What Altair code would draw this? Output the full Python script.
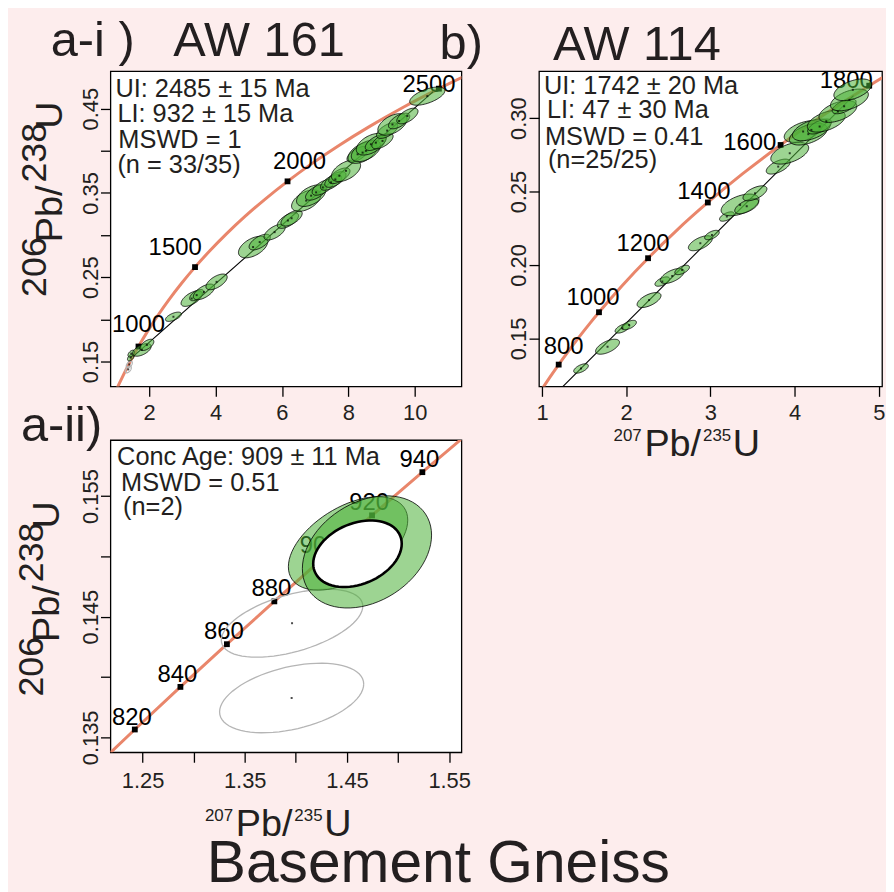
import numpy as np
import pandas as pd
import altair as alt

FONT = "Liberation Sans"
PINK = "#FDEDED"
SALMON = "#E9866B"
GREEN = "#4DB038"
INK = "#231F20"

# ---------------- concordia (age Ma, 207Pb/235U, 206Pb/238U) ----------------
conc_age = [700, 750, 800, 820, 840, 860, 880, 900, 920, 940, 960, 1000, 1100, 1200,
            1300, 1400, 1500, 1600, 1700, 1800, 1900, 2000, 2100, 2200, 2300, 2400, 2500, 2600]
conc_r75 = [0.99251, 1.09308, 1.19873, 1.24247, 1.28708, 1.33257, 1.37897, 1.42629, 1.47456,
            1.52378, 1.57399, 1.67741, 1.95452, 2.26030, 2.59774, 2.97009, 3.38099, 3.83442,
            4.33468, 4.88690, 5.49619, 6.16852, 6.91046, 7.72916, 8.63262, 9.62957, 10.72971, 11.94371]
conc_r68 = [0.11470, 0.12338, 0.13213, 0.13565, 0.13918, 0.14272, 0.14627, 0.14983, 0.15340,
            0.15698, 0.16058, 0.16780, 0.18606, 0.20460, 0.22344, 0.24256, 0.26199, 0.28172,
            0.30175, 0.32211, 0.34277, 0.36377, 0.38509, 0.40674, 0.42873, 0.45107, 0.47375, 0.49679]

ai_marks = [1000, 1500, 2000, 2500]
b_marks = [800, 1000, 1200, 1400, 1600, 1800]
aii_marks = [820, 840, 860, 880, 900, 920, 940]

# discordia end points
ai_disc_x = [1.50398, 10.5577]
ai_disc_y = [0.15555, 0.47033]
b_disc_x = [1.20, 4.70]
b_disc_y = [0.1144, 0.3153]

# ---------------- AW 161 analyses (x, y, sx, sy, rho) ----------------
ai_x = [1.445, 1.460, 1.78, 1.93, 2.73, 3.28, 3.43, 3.65, 4.03, 5.13, 5.33, 5.78, 6.18, 6.29,
        6.73, 6.88, 7.03, 7.23, 7.48, 7.61, 7.73, 7.93, 8.28, 8.43, 8.53, 8.68, 8.83, 9.03,
        9.17, 9.33, 9.53, 9.78, 10.38]
ai_y = [0.1547, 0.1594, 0.1638, 0.1697, 0.2031, 0.2247, 0.2288, 0.2326, 0.2445, 0.2858, 0.2917,
        0.3035, 0.3173, 0.3200, 0.3409, 0.3468, 0.3507, 0.3566, 0.3625, 0.3660, 0.3704, 0.3763,
        0.3959, 0.3979, 0.4000, 0.4078, 0.4097, 0.4117, 0.4240, 0.4313, 0.4354, 0.4413, 0.4649]
ai_sx = [0.10, 0.10, 0.28, 0.21, 0.24, 0.32, 0.21, 0.32, 0.32, 0.44, 0.32, 0.32, 0.32, 0.32,
         0.44, 0.44, 0.32, 0.32, 0.32, 0.32, 0.32, 0.44, 0.32, 0.44, 0.44, 0.44, 0.32, 0.32,
         0.32, 0.44, 0.32, 0.32, 0.53]
ai_sy = [0.0040, 0.0040, 0.0075, 0.0067, 0.0055, 0.0093, 0.0067, 0.0093, 0.0093, 0.0128, 0.0093,
         0.0093, 0.0093, 0.0093, 0.0128, 0.0128, 0.0093, 0.0093, 0.0093, 0.0093, 0.0093, 0.0128,
         0.0093, 0.0128, 0.0128, 0.0128, 0.0093, 0.0093, 0.0093, 0.0128, 0.0093, 0.0093, 0.0108]
ai_rho = [0.5, 0.5, 0.55, 0.58, 0.6, 0.61, 0.58, 0.61, 0.61, 0.5, 0.61, 0.61, 0.61, 0.61,
          0.5, 0.5, 0.61, 0.61, 0.61, 0.61, 0.61, 0.5, 0.61, 0.5, 0.5, 0.5, 0.61, 0.61,
          0.61, 0.5, 0.61, 0.61, 0.6]
# excluded analyses
ai_ex_x = [1.37, 1.40]
ai_ex_y = [0.1406, 0.1465]
ai_ex_sx = [0.09, 0.09]
ai_ex_sy = [0.0040, 0.0040]
ai_ex_rho = [0.5, 0.5]

# ---------------- AW 114 analyses ----------------
b_x = [1.464, 1.779, 1.956, 2.035, 2.272, 2.429, 2.547, 2.665, 2.881, 3.019, 3.196, 3.353, 3.432,
       3.530, 3.806, 3.943, 4.102, 4.164, 4.200, 4.298, 4.377, 4.515, 4.589, 4.652, 4.692]
b_y = [0.1295, 0.1443, 0.1568, 0.1591, 0.1761, 0.1887, 0.1925, 0.1966, 0.2148, 0.2204, 0.2330,
       0.2409, 0.2400, 0.2488, 0.2670, 0.2761, 0.2909, 0.2891, 0.2920, 0.2943, 0.2979, 0.3045,
       0.3081, 0.3124, 0.3193]
b_sx = [0.087, 0.142, 0.087, 0.087, 0.142, 0.087, 0.142, 0.087, 0.142, 0.087, 0.087, 0.225, 0.142,
        0.142, 0.142, 0.225, 0.225, 0.225, 0.225, 0.142, 0.225, 0.225, 0.142, 0.225, 0.225]
b_sy = [0.0032, 0.0051, 0.0032, 0.0032, 0.0051, 0.0032, 0.0051, 0.0032, 0.0051, 0.0032, 0.0032,
        0.0074, 0.0051, 0.0051, 0.0051, 0.0074, 0.0074, 0.0074, 0.0074, 0.0051, 0.0074, 0.0074,
        0.0051, 0.0074, 0.0074]
b_rho = [0.58, 0.6, 0.58, 0.58, 0.6, 0.58, 0.6, 0.58, 0.6, 0.58, 0.58, 0.5, 0.6,
         0.6, 0.6, 0.5, 0.5, 0.5, 0.5, 0.6, 0.5, 0.5, 0.6, 0.5, 0.5]

# ---------------- AW 161 concordant analyses ----------------
aii_x = [1.4511, 1.4696]
aii_y = [0.15107, 0.15037]
aii_sx = [0.0584, 0.0632]
aii_sy = [0.00387, 0.00465]
aii_rho = [0.5, 0.3]
aii_age_x = [1.4603]
aii_age_y = [0.15022]
aii_age_sx = [0.0433]
aii_age_sy = [0.00276]
aii_age_rho = [0.3]
aii_ex_x = [1.3963, 1.3959]
aii_ex_y = [0.14446, 0.13826]
aii_ex_sx = [0.0692, 0.0705]
aii_ex_sy = [0.00282, 0.00288]
aii_ex_rho = [0.5, 0.4]


# ---------------- helpers ----------------
def ellipses(xs, ys, sxs, sys_, rhos, tag):
    t = np.linspace(0, 2 * np.pi, 73)
    parts = []
    for i, (cx, cy, sx, sy, r) in enumerate(zip(xs, ys, sxs, sys_, rhos)):
        ex = cx + sx * np.cos(t)
        ey = cy + sy * (r * np.cos(t) + np.sqrt(1 - r * r) * np.sin(t))
        parts.append(pd.DataFrame({"id": f"{tag}{i:02d}", "k": np.arange(len(t)), "x": ex, "y": ey}))
    return pd.concat(parts, ignore_index=True)


conc = pd.DataFrame({"age": conc_age, "x": conc_r75, "y": conc_r68})
conc["label"] = conc["age"].astype(str)
one = pd.DataFrame({"d": [0]})


def axes(xdom, ydom, xvals, yvals, xfmt, yfmt, xexpr=None, yexpr=None, xpad=6, ypad=3):
    xa = dict(values=xvals, format=xfmt, title=None, labelPadding=xpad)
    ya = dict(values=yvals, format=yfmt, title=None, labelPadding=ypad)
    if xexpr:
        xa["labelExpr"] = xexpr
    if yexpr:
        ya["labelExpr"] = yexpr
    X = alt.X("x:Q", scale=alt.Scale(domain=xdom, nice=False, zero=False), axis=alt.Axis(**xa))
    Y = alt.Y("y:Q", scale=alt.Scale(domain=ydom, nice=False, zero=False), axis=alt.Axis(**ya))
    return X, Y


def txt(s, x, y, size, angle=0, align="left", color=INK):
    return alt.Chart(one).mark_text(text=s, fontSize=size, align=align, baseline="alphabetic",
                                    angle=angle, color=color, font=FONT).encode(
        x=alt.value(x), y=alt.value(y))


def panel_layers(X, Y, ages, offsets, disc, ell, ex, extra_top=None):
    L = []
    L.append(alt.Chart(conc).mark_line(color=SALMON, strokeWidth=3, clip=True,
                                       interpolate="monotone").encode(x=X, y=Y, order="age:Q"))
    if disc is not None:
        L.append(alt.Chart(disc).mark_line(color="black", strokeWidth=1.1, clip=True).encode(x=X, y=Y))
    mk = conc[conc["age"].isin(ages)]
    L.append(alt.Chart(mk).mark_square(size=34, color="black", opacity=1).encode(x=X, y=Y))
    for age in ages:
        dx, dy = offsets[age]
        L.append(alt.Chart(mk).transform_filter(alt.datum.age == age).mark_text(
            dx=dx, dy=dy, fontSize=24, font=FONT, align="center", baseline="alphabetic",
            color="black").encode(x=X, y=Y, text="label:N"))
    if ex is not None:
        L.append(alt.Chart(ex).mark_line(stroke="#B5B5B5", strokeWidth=1.3, clip=True).encode(
            x=X, y=Y, detail="id:N", order="k:Q"))
    L.append(alt.Chart(ell).mark_line(fill=GREEN, fillOpacity=0.55, stroke="black",
                                      strokeWidth=0.8, clip=True).encode(
        x=X, y=Y, detail="id:N", order="k:Q"))
    if extra_top is not None:
        L.extend(extra_top)
    return L


def xtitle(x0, yb):
    # 207Pb/235U with superscript mass numbers
    return [txt("207", x0, yb - 15, 17), txt("Pb/", x0 + 31, yb, 38),
            txt("235", x0 + 90, yb - 15, 17), txt("U", x0 + 120, yb, 38)]


def ytitle(xb, y0):
    # 206Pb/238U rotated, with the element symbols set low
    return [txt("206", xb, y0, 36, angle=270), txt("Pb/", xb + 16, y0 - 55, 38, angle=270),
            txt("238", xb, y0 - 115, 36, angle=270), txt("U", xb + 16, y0 - 169, 38, angle=270)]


# ---------------- panel a-i ----------------
Xa, Ya = axes([0.8315, 11.408], [0.1205, 0.4945], [2, 4, 6, 8, 10],
              [0.15, 0.20, 0.25, 0.30, 0.35, 0.40, 0.45], "d", ".2f",
              yexpr="round(datum.value*100) % 10 == 5 ? format(datum.value, '.2f') : ''")
ai_ell = ellipses(ai_x, ai_y, ai_sx, ai_sy, ai_rho, "a")
ai_exdf = ellipses(ai_ex_x, ai_ex_y, ai_ex_sx, ai_ex_sy, ai_ex_rho, "e")
ai_centres = pd.DataFrame({"x": ai_x + ai_ex_x, "y": ai_y + ai_ex_y})
ai_off = {1000: (0, -15), 1500: (-20, -12), 2000: (12, -12), 2500: (-10, 3)}
ai_layers = [alt.Chart(one).mark_rect(opacity=0).encode(
    x=alt.value(-102), x2=alt.value(776), y=alt.value(-60), y2=alt.value(816))]
ai_layers += panel_layers(
    Xa, Ya, ai_marks, ai_off, pd.DataFrame({"x": ai_disc_x, "y": ai_disc_y}), ai_ell, ai_exdf,
    [alt.Chart(ai_centres).mark_square(size=4, color="black").encode(x=Xa, y=Ya)])
ai_layers += [
    txt("UI: 2485 ± 15 Ma", 5, 26, 25.5), txt("LI: 932 ± 15 Ma", 7, 51.3, 25.5),
    txt("MSWD = 1", 8, 77, 25.5), txt("(n = 33/35)", 7, 102, 25.5),
    txt("a-i )", -60, -15.3, 49), txt("AW 161", 63.3, -15.3, 49),
] + ytitle(-65, 227)
ai = alt.layer(*ai_layers).properties(width=353, height=317)

# ---------------- panel b ----------------
Xb, Yb = axes([0.9646, 5.039], [0.1173, 0.3320], [1, 2, 3, 4, 5],
              [0.15, 0.20, 0.25, 0.30], "d", ".2f", ypad=4)
b_ell = ellipses(b_x, b_y, b_sx, b_sy, b_rho, "b")
b_centres = pd.DataFrame({"x": b_x, "y": b_y})
b_off = {800: (5, -11), 1000: (-6, -7), 1200: (-5, -7), 1400: (-4, -4), 1600: (-31, 5), 1800: (-23, 2.5)}
b_layers = panel_layers(
    Xb, Yb, b_marks, b_off, pd.DataFrame({"x": b_disc_x, "y": b_disc_y}), b_ell, None,
    [alt.Chart(b_centres).mark_square(size=4, color="black").encode(x=Xb, y=Yb)])
b_layers += [
    txt("UI: 1742 ± 20 Ma", 5, 22.7, 25.5), txt("LI: 47 ± 30 Ma", 8, 47, 25.5),
    txt("MSWD = 0.41", 6, 74.7, 25.5), txt("(n=25/25)", 9, 97.7, 25.5),
    txt("b)", -100, -12, 49), txt("AW 114", 14, -11.3, 49),
] + xtitle(75, 387)
b = alt.layer(*b_layers).properties(width=345, height=317)

# ---------------- panel a-ii ----------------
Xc, Yc = axes([1.2186, 1.562], [0.13376, 0.15964],
              [1.25, 1.30, 1.35, 1.40, 1.45, 1.50, 1.55],
              [0.135, 0.140, 0.145, 0.150, 0.155], ".2f", ".3f",
              xexpr="round(datum.value*100) % 10 == 5 ? format(datum.value, '.2f') : ''",
              yexpr="round(datum.value*1000) % 10 == 5 ? format(datum.value, '.3f') : ''",
              xpad=8)
aii_ell = ellipses(aii_x, aii_y, aii_sx, aii_sy, aii_rho, "c")
aii_exdf = ellipses(aii_ex_x, aii_ex_y, aii_ex_sx, aii_ex_sy, aii_ex_rho, "g")
aii_agedf = ellipses(aii_age_x, aii_age_y, aii_age_sx, aii_age_sy, aii_age_rho, "w")
aii_centres = pd.DataFrame({"x": aii_ex_x, "y": aii_ex_y})
aii_off = {a: (-3, -5) for a in aii_marks}
aii_layers = panel_layers(
    Xc, Yc, aii_marks, aii_off, None, aii_ell, aii_exdf,
    [alt.Chart(aii_centres).mark_square(size=4, color="black").encode(x=Xc, y=Yc),
     alt.Chart(aii_agedf).mark_line(fill="white", fillOpacity=1, stroke="black",
                                    strokeWidth=2.6, clip=True).encode(
         x=Xc, y=Yc, detail="id:N", order="k:Q")])
aii_layers += [
    txt("Conc Age: 909 ± 11 Ma", 6.7, 25, 25.5), txt("MSWD = 0.51", 10.7, 51, 25.5),
    txt("(n=2)", 12.7, 75, 25.5),
    txt("a-ii)", -90, 1, 49),
    txt("Basement Gneiss", 97, 444, 59),
] + ytitle(-68, 258) + xtitle(95, 397.7)
aii = alt.layer(*aii_layers).properties(width=353, height=314)

chart = alt.concat(ai, b, aii, columns=2, spacing={"row": 54, "column": 78},
                   bounds="flush").properties(padding=0).configure(
    background=PINK, font=FONT
).configure_view(
    stroke="black", strokeWidth=1.3, fill="white"
).configure_axis(
    domain=False, grid=False, tickSize=10, tickWidth=1.3, tickColor="black",
    labelFont=FONT, labelFontSize=22, labelColor=INK
).configure_axisLeft(
    labelAngle=270, labelAlign="center", labelBaseline="alphabetic"
)

chart.save("out.html", embed_options={"renderer": "svg", "actions": False})
